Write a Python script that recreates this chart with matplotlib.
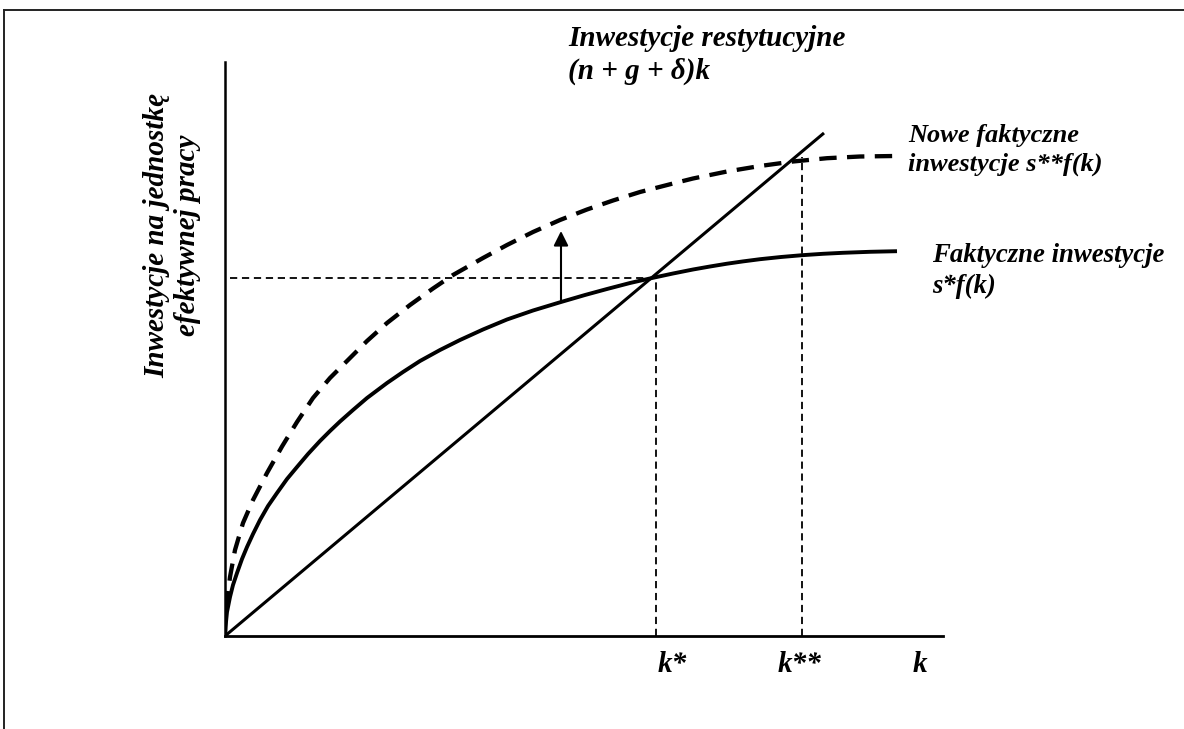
import matplotlib
matplotlib.use("Agg")
import matplotlib.pyplot as plt
from matplotlib.lines import Line2D

plt.rcParams["lines.scale_dashes"] = False

# values (k and investment, origin at the axes corner)
K_SOLID = [0, 0.5, 2, 5, 8, 12, 17, 22, 28, 35, 43, 52, 62, 72, 83, 95, 105,
           115, 128, 142, 152, 162, 178, 195, 215, 235, 258, 282, 308, 336,
           360, 382, 405, 427, 448, 468, 485, 502, 518, 535, 556, 577, 598,
           618, 645, 672]
I_SOLID = [0, 9, 24, 39, 51, 63, 77, 89, 102, 116, 130, 143, 157, 169, 182,
           195, 205, 214.5, 226, 238, 245.5, 253, 264, 275, 286, 296, 306.5,
           316.5, 325.5, 334, 341, 347, 353, 358, 362.5, 366.5, 369.5, 372.3,
           374.6, 376.8, 379, 380.8, 382.2, 383.2, 384.2, 384.8]

K_NEW = [0, 0.5, 5, 10, 18, 28, 42, 57, 72, 88, 105, 125, 142, 162, 185, 208,
         228, 258, 282, 308, 335, 362, 388, 415, 448, 468, 502, 535, 568, 602,
         635, 670]
I_NEW = [0, 23, 59, 86, 113, 136, 163, 189.5, 214, 238, 258, 278, 295, 313,
         331, 347.5, 361, 378, 391, 404, 416, 426.5, 435.5, 444, 452.5, 457.5,
         464.5, 470, 474.5, 477.8, 479.5, 480]

K_LINE = [0, 599]
I_LINE = [0, 503]

K_STAR, I_STAR = 431, 358
K_STAR2, I_STAR2 = 577, 479
ARROW_K, ARROW_FROM, ARROW_TO = 336, 334, 405

X_MAX, Y_TOP = 718, 574

FONT = dict(family="Liberation Serif", weight="bold", style="italic",
            fontsize=21, color="black")

W, H = 1184, 729
fig = plt.figure(figsize=(W / 100, H / 100), dpi=100)
ax = fig.add_axes([225 / W, (H - 636) / H, X_MAX / W, Y_TOP / H])
ax.set_xlim(0, X_MAX)
ax.set_ylim(0, Y_TOP)
ax.set_xticks([])
ax.set_yticks([])
ax.spines["top"].set_visible(False)
ax.spines["right"].set_visible(False)
ax.spines["left"].set_linewidth(1.8)
ax.spines["bottom"].set_linewidth(2.0)

# reference lines
thin = dict(color="black", lw=1.3, dashes=(5.2, 3.4))
ax.plot([5, K_STAR], [I_STAR, I_STAR], **thin)
ax.plot([K_STAR, K_STAR], [0, I_STAR], **thin)
ax.plot([K_STAR2, K_STAR2], [0, I_STAR2], **thin)

# curves
ax.plot(K_NEW, I_NEW, color="black", lw=3.1, dashes=(12.5, 7.5),
        solid_joinstyle="round")
ax.plot(K_SOLID, I_SOLID, color="black", lw=2.8, solid_capstyle="butt",
        solid_joinstyle="round")
ax.plot(K_LINE, I_LINE, color="black", lw=2.2, solid_capstyle="butt")

ax.annotate("", xy=(ARROW_K, ARROW_TO), xytext=(ARROW_K, ARROW_FROM),
            arrowprops=dict(arrowstyle="-|>", color="black", lw=1.5,
                            mutation_scale=22, shrinkA=0, shrinkB=0))

# labels
ax.text(343, 581, "Inwestycje restytucyjne\n(n + g + δ)k", ha="left",
        va="center", linespacing=1.25, clip_on=False, **FONT)
ax.text(683, 486, "Nowe faktyczne\ninwestycje s**f(k)", ha="left",
        va="center", linespacing=1.3, clip_on=False,
        **{**FONT, "fontsize": 19})
ax.text(707, 365, "Faktyczne inwestycje\ns*f(k)", ha="left",
        va="center", linespacing=1.35, clip_on=False,
        **{**FONT, "fontsize": 19.3})
ax.text(-53, 401, "Inwestycje na jednostkę\nefektywnej pracy", rotation=90,
        ha="center", va="center", multialignment="center", linespacing=1.2,
        clip_on=False, **FONT)
ax.text(K_STAR + 16, -29, "k*", ha="center", va="center", clip_on=False, **FONT)
ax.text(K_STAR2 - 2, -29, "k**", ha="center", va="center", clip_on=False, **FONT)
ax.text(X_MAX - 23, -29, "k", ha="center", va="center", clip_on=False, **FONT)

# page frame
fig.add_artist(Line2D([4 / W, 1], [1 - 10 / H, 1 - 10 / H], color="#222222",
                      lw=1.4, transform=fig.transFigure))
fig.add_artist(Line2D([4 / W, 4 / W], [0, 1 - 10 / H], color="#222222",
                      lw=1.4, transform=fig.transFigure))

fig.savefig("out.png", dpi=100)
